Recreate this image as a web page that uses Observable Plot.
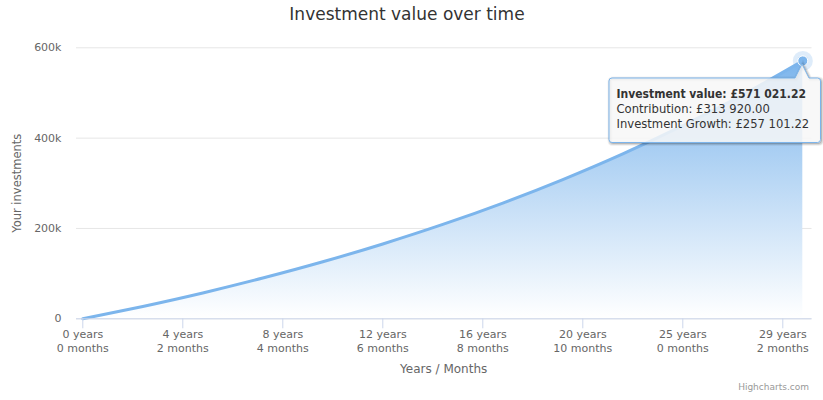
<!DOCTYPE html>
<html><head><meta charset="utf-8">
<script src="https://cdn.jsdelivr.net/npm/d3@7"></script>
<script src="https://cdn.jsdelivr.net/npm/@observablehq/plot@0.6"></script>
<style>
body{margin:0;background:#fff;}
#chart{position:relative;width:823px;height:400px;font-family:"DejaVu Sans",sans-serif;}
</style>
</head><body><div id="chart"></div>
<script>
// ---- data ----
const months = [0, 30, 60, 90, 120, 150, 180, 210, 240, 270, 300, 330, 360];
const values = [0, 27400, 57300, 90200, 126200, 165700, 208900, 256300, 308300, 365200, 427700, 496100, 571021.22];
const xTicks = [0, 50, 100, 150, 200, 250, 300, 350];
const yTicks = [0, 200000, 400000, 600000];
const yTickLabels = ["0", "200k", "400k", "600k"];
const title = "Investment value over time";
const yTitle = "Your investments";
const xTitle = "Years / Months";
const credit = "Highcharts.com";
const finalValue = 571021.22;
const contribution = 313920.00;

const data = months.map((m, i) => ({month: m, value: values[i]}));
const last = data[data.length - 1];
const yLabelMap = new Map(yTicks.map((t, i) => [t, yTickLabels[i]]));
const fmtTick = m => `${Math.floor(m / 12)} years\n${m % 12} months`;
const gbp = v => "£" + d3.format(",.2f")(v).replace(/,/g, " ");

const defs = () => {
  const d = d3.create("svg:defs");
  const g = d.append("linearGradient").attr("id", "areaGrad")
    .attr("x1", 0).attr("y1", 0).attr("x2", 0).attr("y2", 1);
  g.append("stop").attr("offset", "0%").attr("stop-color", "#7cb5ec");
  g.append("stop").attr("offset", "100%").attr("stop-color", "#ffffff");
  return d.node();
};

const plot = Plot.plot({
  width: 823, height: 400,
  marginLeft: 76, marginRight: 11.5, marginTop: 47.3, marginBottom: 81.7,
  style: {fontFamily: "DejaVu Sans, sans-serif", background: "#fff", overflow: "visible"},
  x: {domain: [-3.15, 364.6]},
  y: {domain: [0, 600000]},
  marks: [
    defs,
    Plot.gridY(yTicks, {stroke: "#e6e6e6", strokeOpacity: 1}),
    Plot.areaY(data, {x: "month", y: "value", fill: "url(#areaGrad)", curve: "monotone-x"}),
    Plot.lineY(data, {x: "month", y: "value", stroke: "#7cb5ec", strokeWidth: 3, curve: "monotone-x"}),
    Plot.ruleY([0], {stroke: "#ccd6eb"}),
    Plot.axisX(xTicks, {tickSize: 10, stroke: "#ccd6eb", tickFormat: () => "", label: null}),
    Plot.text(xTicks, {x: d => d, text: fmtTick, frameAnchor: "bottom", lineAnchor: "middle", dy: 22, lineHeight: 1.27, fontSize: 11, fill: "#666"}),
    Plot.axisY(yTicks, {tickSize: 0, tickPadding: 15, tickFormat: d => yLabelMap.get(d), fontSize: 11, fill: "#666", label: null}),
    Plot.dot([last], {x: "month", y: "value", r: 10, fill: "#7cb5ec", fillOpacity: 0.25}),
    Plot.dot([last], {x: "month", y: "value", r: 5, fill: "#7cb5ec", stroke: "#fff", strokeWidth: 1})
  ]
});

const svg = d3.select(plot);
svg.append("text").attr("x", 407).attr("y", 20).attr("text-anchor", "middle")
  .attr("font-size", 17).attr("fill", "#333").text(title);
svg.append("text").attr("transform", "translate(17,183.3) rotate(-90)")
  .attr("text-anchor", "middle").attr("dy", "0.35em")
  .attr("font-size", 11.5).attr("fill", "#666").text(yTitle);
svg.append("text").attr("x", 443.7).attr("y", 373).attr("text-anchor", "middle")
  .attr("font-size", 12).attr("fill", "#666").text(xTitle);
svg.append("text").attr("x", 809).attr("y", 390).attr("text-anchor", "end")
  .attr("font-size", 9).attr("fill", "#999").text(credit);

// tooltip
const bx0 = 609, bx1 = 820.5, by0 = 78, by1 = 142.5, r = 3;
const tipPath = `M${bx0 + r},${by0} L795,${by0} L802,64 L809,${by0} L${bx1 - r},${by0} Q${bx1},${by0} ${bx1},${by0 + r} L${bx1},${by1 - r} Q${bx1},${by1} ${bx1 - r},${by1} L${bx0 + r},${by1} Q${bx0},${by1} ${bx0},${by1 - r} L${bx0},${by0 + r} Q${bx0},${by0} ${bx0 + r},${by0} Z`;
const tip = svg.append("g").attr("text-anchor", "start");
[[5, 0.05], [3, 0.1], [1, 0.15]].forEach(([w, o]) => {
  tip.append("path").attr("d", tipPath).attr("transform", "translate(1,1)")
    .attr("fill", "none").attr("stroke", "#000").attr("stroke-opacity", o).attr("stroke-width", w);
});
tip.append("path").attr("d", tipPath).attr("fill", "rgba(247,247,247,0.85)").attr("stroke", "#7cb5ec").attr("stroke-width", 1);
tip.append("text").attr("x", 616.5).attr("y", 97.5).attr("text-anchor", "start").attr("font-size", 12).attr("font-weight", "bold")
  .attr("font-family", "'DejaVu Sans Condensed', 'DejaVu Sans', sans-serif").attr("font-stretch", "condensed")
  .attr("fill", "#333").text(`Investment value: ${gbp(finalValue)}`);
tip.append("text").attr("x", 616.5).attr("y", 112.5).attr("text-anchor", "start").attr("font-size", 11.6).attr("fill", "#333")
  .text(`Contribution: ${gbp(contribution)}`);
tip.append("text").attr("x", 616.5).attr("y", 127.5).attr("text-anchor", "start").attr("font-size", 11.6).attr("fill", "#333")
  .text(`Investment Growth: ${gbp(finalValue - contribution)}`);

document.getElementById("chart").appendChild(plot);
</script>
</body></html>
